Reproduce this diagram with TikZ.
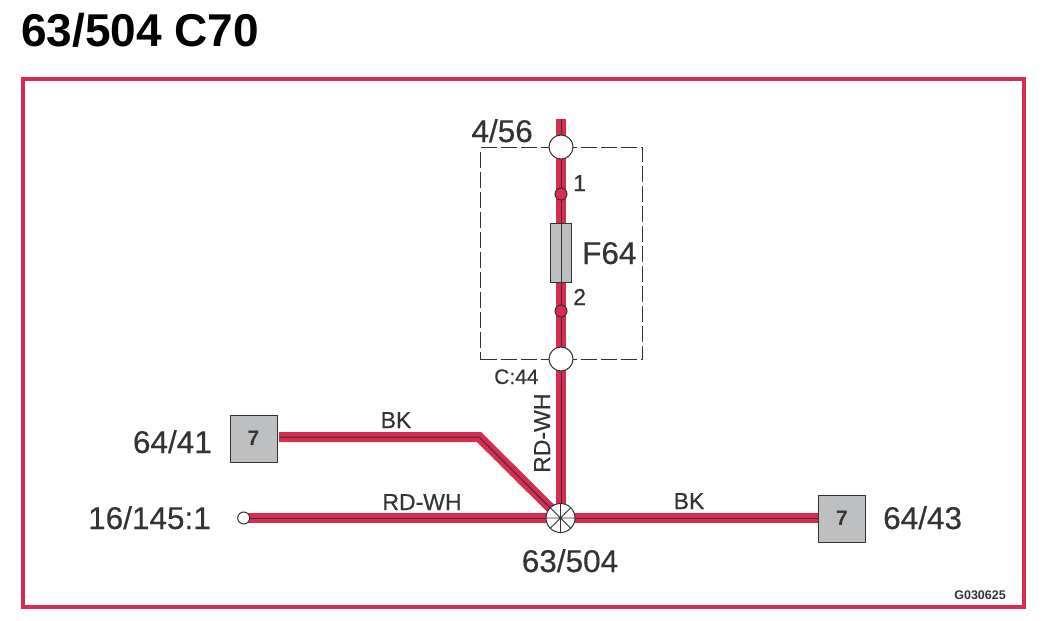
\documentclass[tikz,border=0pt]{standalone}
\usepackage{fontspec}
\setmainfont{Liberation Sans}
\usetikzlibrary{backgrounds}
\definecolor{wirered}{RGB}{216,44,82}
\definecolor{ink}{RGB}{51,51,51}
\definecolor{boxgray}{RGB}{190,191,193}
\newfontfamily\heavyfont[FakeBold=0.35]{Liberation Sans}
\tikzset{
  wire/.style={draw=wirered,line width=10pt,postaction={draw=ink,line width=1pt}},
  connbox/.style={draw=ink,line width=1pt,fill=boxgray,minimum size=47pt,inner sep=0pt,font=\fontsize{21}{21}\selectfont\bfseries,text=ink},
  lbl/.style={inner sep=0pt,text=ink,font=\heavyfont\fontsize{31.5}{32}\selectfont},
  midlbl/.style={inner sep=0pt,text=ink,font=\heavyfont\fontsize{23}{23}\selectfont},
  smalllbl/.style={inner sep=0pt,text=ink,font=\heavyfont\fontsize{21}{21}\selectfont},
  whitecirc/.style={circle,draw=ink,line width=1pt,fill=white,inner sep=0pt},
  pin/.style={circle,draw=ink,line width=1pt,fill=wirered,minimum size=12pt,inner sep=0pt},
}
\begin{document}
\begin{tikzpicture}[x=1pt,y=-1pt]
\useasboundingbox (0,0) rectangle (1053,621);
\node[inner sep=0pt,anchor=base west,font=\fontsize{46}{46}\selectfont\bfseries] (title) at (21,46) {63/504 C70};
\node[draw=wirered,line width=4.4pt,minimum width=1001pt,minimum height=528pt,inner sep=0pt] (frame) at (523.5,343) {};
\node[draw=ink,dash pattern=on 16pt off 4pt,line width=0.7pt,minimum width=162pt,minimum height=212pt,inner sep=0pt] (zone) at (561.5,253.5) {};
\coordinate (top) at (561,119);
\coordinate (bend) at (479,437);
\node[whitecirc,minimum size=24pt] (c1) at (561,147) {};
\node[whitecirc,minimum size=24pt] (c2) at (561,359) {};
\node[pin] (p1) at (561,194) {};
\node[pin] (p2) at (561,311) {};
\node[draw=ink,line width=1pt,fill=boxgray,minimum width=21pt,minimum height=59pt,inner sep=0pt] (fuse) at (561,253) {};
\node[connbox] (k1) at (253.5,438.5) {7};
\node[connbox] (k2) at (842,518.5) {7};
\node[whitecirc,minimum size=12pt] (end) at (243.7,518) {};
\node[whitecirc,minimum size=29pt] (hub) at (560.5,518) {};
\coordinate (k1w) at (279,437);
\begin{pgfonlayer}{background}
\draw[wire] (top) -- (c1.center);
\draw[wire] (c1.center) -- (c2.center);
\draw[wire] (c2.center) -- (c2 |- hub);
\draw[wire,line join=miter] (k1w) -- (bend) -- (hub.center);
\draw[wire] (end.center) -- (hub.center);
\draw[wire] (hub.center) -- (hub -| k2.west);
\end{pgfonlayer}
\draw[draw=ink,line width=1pt] (fuse.north) -- (fuse.south);
\draw[ink,line width=0.8pt] (hub.north) -- (hub.south) (hub.west) -- (hub.east) (hub.north west) -- (hub.south east) (hub.north east) -- (hub.south west);
\node[lbl,anchor=base east] (t1) at (533,142) {4/56};
\node[midlbl,anchor=base west] (t2) at (573,191) {1};
\node[lbl,anchor=base west] (t3) at (582,264) {F64};
\node[midlbl,anchor=base west] (t4) at (573,305) {2};
\node[smalllbl,anchor=base west] (t5) at (494,384) {C:44};
\node[midlbl,anchor=base west,rotate=90] (t6) at (550,473) {RD-WH};
\node[midlbl,anchor=base] (t7) at (396,428) {BK};
\node[midlbl,anchor=base] (t8) at (422,510) {RD-WH};
\node[midlbl,anchor=base] (t9) at (689,509) {BK};
\node[lbl,anchor=base east] (t10) at (212,453) {64/41};
\node[lbl,anchor=base east] (t11) at (211,529) {16/145:1};
\node[lbl,anchor=base west] (t12) at (883,529) {64/43};
\node[lbl,anchor=base] (t13) at (570,572) {63/504};
\node[inner sep=0pt,anchor=base east,text=ink,font=\fontsize{12.5}{12}\selectfont\bfseries] (t14) at (1006,599) {G030625};
\end{tikzpicture}
\end{document}
